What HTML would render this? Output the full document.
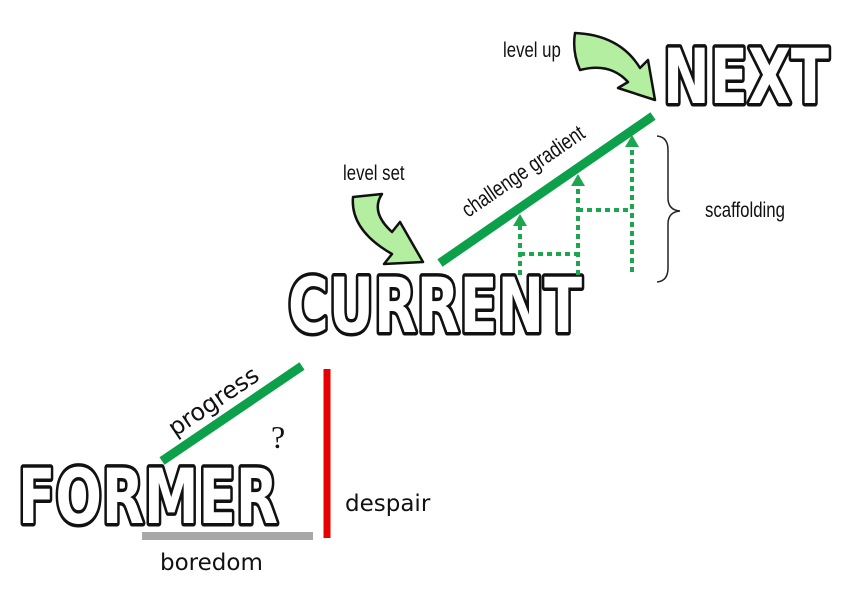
<!DOCTYPE html>
<html><head><style>
body{margin:0;background:#fff}
svg{display:block}
.big{font-family:"DejaVu Sans","Liberation Sans",sans-serif;font-weight:bold;fill:#fff;stroke:#111;stroke-width:7;paint-order:stroke;stroke-linejoin:round}
.hand{font-family:"Liberation Sans Narrow","Liberation Sans",sans-serif;fill:#111}
.sans{font-family:"DejaVu Sans","Liberation Sans",sans-serif;fill:#111}
</style></head><body>
<svg width="848" height="597" viewBox="0 0 848 597" xmlns="http://www.w3.org/2000/svg">
<rect width="848" height="597" fill="#fff"/>
<text class="big" x="18" y="523" font-size="76" textLength="260" lengthAdjust="spacingAndGlyphs">FORMER</text>
<text class="big" x="288" y="332" font-size="76" textLength="294" lengthAdjust="spacingAndGlyphs">CURRENT</text>
<text class="big" x="663" y="103" font-size="76" textLength="166" lengthAdjust="spacingAndGlyphs">NEXT</text>
<line x1="162" y1="461" x2="302" y2="366" stroke="#0ca04a" stroke-width="9"/>
<line x1="440" y1="263" x2="653" y2="116" stroke="#0ca04a" stroke-width="9"/>
<line x1="327" y1="369" x2="327" y2="538" stroke="#e60000" stroke-width="7"/>
<line x1="142" y1="536" x2="313" y2="536" stroke="#a8a8a8" stroke-width="8"/>
<g stroke="#1ca650" stroke-width="4" stroke-dasharray="5,4" fill="none">
<line x1="520" y1="275" x2="520" y2="226"/>
<line x1="578" y1="275" x2="578" y2="186"/>
<line x1="632" y1="272" x2="632" y2="146"/>
<line x1="520" y1="254" x2="578" y2="254"/>
<line x1="578" y1="210" x2="632" y2="210"/>
</g>
<g fill="#1ca650">
<polygon points="520,214 513,226 527,226"/>
<polygon points="578,174 571,186 585,186"/>
<polygon points="632,135 625,147 639,147"/>
</g>
<path d="M657,136 Q668,137 668,150 L668,198 Q668,210 680,211 Q668,212 668,224 L668,268 Q668,281 657,282" fill="none" stroke="#222" stroke-width="1.5"/>
<text class="hand" transform="translate(705,217) scale(0.8,1)" font-size="21">scaffolding</text>
<path d="M353,197 L382,194 Q370,212 392,232 L400,222 L423,262 L384,264 L392,254 Q350,230 353,197 Z" fill="#b4eea0" stroke="#111" stroke-width="2.5" stroke-linejoin="round"/>
<path d="M575,33 Q620,35 640,68 L648,60 L655,100 L618,88 L628,82 Q610,62 580,70 Q572,52 575,33 Z" fill="#b4eea0" stroke="#111" stroke-width="2.5" stroke-linejoin="round"/>
<text class="hand" transform="translate(343,180) scale(0.8,1)" font-size="21">level set</text>
<text class="hand" transform="translate(503,57) scale(0.8,1)" font-size="21">level up</text>
<text class="hand" transform="translate(468,218) rotate(-34.5) scale(0.8,1)" font-size="22">challenge gradient</text>
<text class="sans" transform="translate(175,437) rotate(-34)" font-size="24">progress</text>
<text x="271" y="448" font-family="Liberation Serif,serif" font-size="32" fill="#111">?</text>
<text class="sans" x="345" y="511" font-size="23">despair</text>
<text class="sans" x="160" y="570" font-size="23">boredom</text>
</svg>
</body></html>
